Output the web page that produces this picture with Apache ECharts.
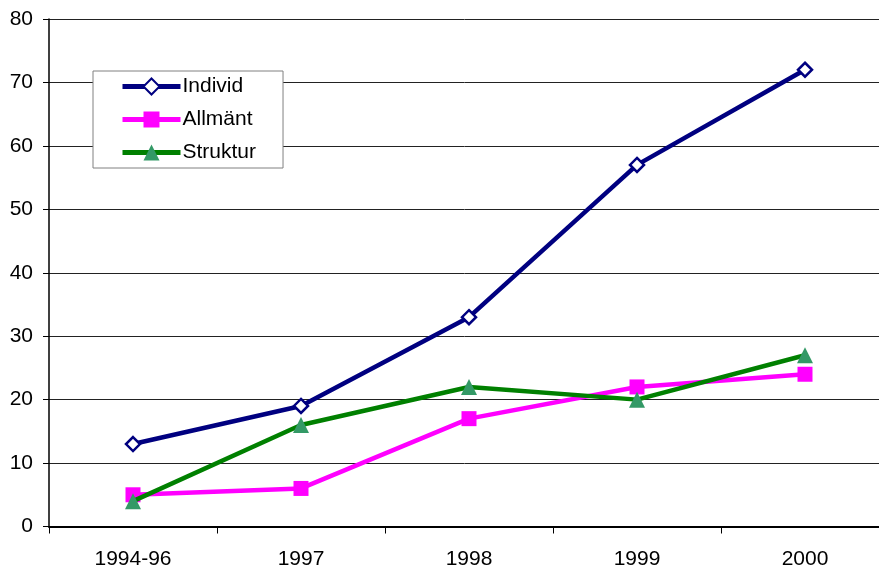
<!DOCTYPE html>
<html>
<head>
<meta charset="utf-8">
<script src="https://cdn.jsdelivr.net/npm/echarts@6/dist/echarts.min.js"></script>
<style>
  html, body { margin: 0; padding: 0; background: #ffffff; }
  #chart { width: 879px; height: 566px; }
</style>
</head>
<body>
<div id="chart"></div>
<script>
// Categories (x axis) and the three series
const categories = ['1994-96', '1997', '1998', '1999', '2000'];
const individ  = [13, 19, 33, 57, 72];
const allmant  = [5, 6, 17, 22, 24];
const struktur = [4, 16, 22, 20, 27];

const FONT = '"Liberation Sans", Arial, sans-serif';

const chart = echarts.init(document.getElementById('chart'), null, { renderer: 'canvas' });

chart.setOption({
  animation: false,
  backgroundColor: '#ffffff',
  textStyle: { fontFamily: FONT },
  // plot area runs a little past the right edge of the canvas
  grid: { left: 49, top: 19, width: 840, height: 507.5, containLabel: false, outerBoundsMode: 'none' },
  legend: {
    orient: 'vertical',
    left: 93,
    top: 71,
    padding: [5, 27, 5, 27],
    itemGap: 12,
    itemWidth: 58,
    itemHeight: 20,
    backgroundColor: '#ffffff',
    borderColor: '#808080',
    borderWidth: 1,
    lineStyle: { width: 5 },
    textStyle: { fontFamily: FONT, fontSize: 21, color: '#000000', padding: [0, 0, 0, -3] },
    data: ['Individ', 'Allmänt', 'Struktur']
  },
  xAxis: {
    type: 'category',
    data: categories,
    boundaryGap: true,
    axisLine: { lineStyle: { color: '#000000', width: 2 } },
    axisTick: { show: true, length: 7, lineStyle: { color: '#000000', width: 1 } },
    axisLabel: { fontFamily: FONT, fontSize: 21, color: '#000000', margin: 22 },
    splitLine: { show: false }
  },
  yAxis: {
    type: 'value',
    min: 0,
    max: 80,
    interval: 10,
    axisLine: { show: true, lineStyle: { color: '#000000', width: 1.5 } },
    axisTick: { show: true, length: 6, lineStyle: { color: '#000000', width: 1 } },
    axisLabel: { fontFamily: FONT, fontSize: 21, color: '#000000', margin: 16 },
    splitLine: { show: true, lineStyle: { color: '#222222', width: 1 } }
  },
  series: [
    {
      name: 'Individ',
      type: 'line',
      data: individ,
      symbol: 'diamond',
      symbolSize: 14,
      lineStyle: { color: '#000080', width: 4.5 },
      itemStyle: { color: '#ffffff', borderColor: '#000080', borderWidth: 2.5 },
      z: 3
    },
    {
      name: 'Allmänt',
      type: 'line',
      data: allmant,
      symbol: 'rect',
      symbolSize: 15,
      lineStyle: { color: '#ff00ff', width: 4.5 },
      itemStyle: { color: '#ff00ff', borderColor: '#ff00ff', borderWidth: 0 },
      z: 4
    },
    {
      name: 'Struktur',
      type: 'line',
      data: struktur,
      symbol: 'triangle',
      symbolSize: 16,
      lineStyle: { color: '#008000', width: 4.5 },
      itemStyle: { color: '#339966', borderColor: '#339966', borderWidth: 0 },
      z: 5
    }
  ]
});
</script>
</body>
</html>
